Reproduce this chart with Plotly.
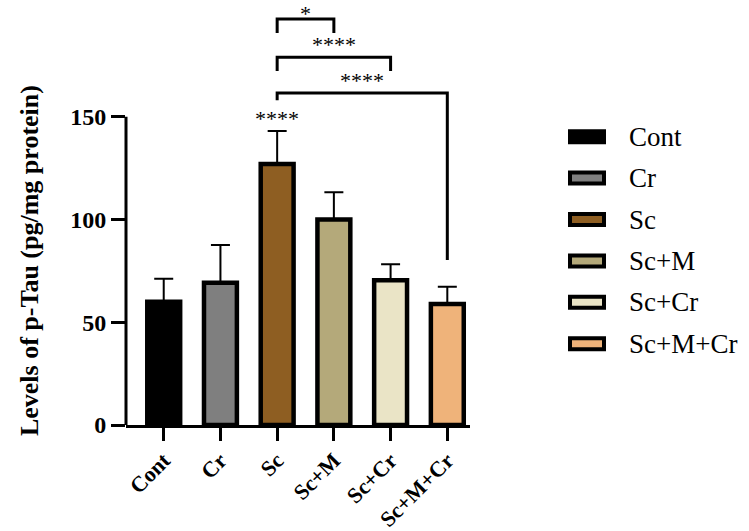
import plotly.graph_objects as go

categories = ["Cont", "Cr", "Sc", "Sc+M", "Sc+Cr", "Sc+M+Cr"]
means = [60.0, 69.2, 127.0, 100.0, 70.4, 58.9]
errors = [11.2, 18.4, 16.0, 13.2, 7.8, 8.4]
colors = ["#000000", "#7F7F7F", "#8E5E22", "#B4A97A", "#EAE4C6", "#EFB37A"]
y_ticks = [0, 50, 100, 150]
sc_stars = "****"
# (group a, group b, label, bracket top, left drop bottom, right drop bottom)
comparisons = [
    ("Sc", "Sc+M", "*", 197.6, 190.8, 190.8),
    ("Sc", "Sc+Cr", "****", 179.0, 172.3, 172.3),
    ("Sc", "Sc+M+Cr", "****", 161.6, 158.0, 80.3),
]

W, H = 749, 531
L, R, T, B = 126, 279, 0, 106
Y_MAX = 206.8
FONT = "Liberation Serif"

def px_x(px):
    return (px - L) / (W - L - R)

def px_y(py):
    return (H - B - py) / (H - T - B)

fig = go.Figure()
fig.add_trace(go.Bar(
    x=categories, y=means,
    marker=dict(color=colors, line=dict(color="black", width=4.5)),
    width=0.58,
    error_y=dict(type="data", array=errors, arrayminus=[0] * len(errors),
                 symmetric=False, color="black", thickness=2, width=9.5),
    showlegend=False,
))

shapes = []
annotations = []

# custom y axis line from 0 to 150
shapes.append(dict(type="line", xref="paper", yref="y", x0=0, x1=0,
                   y0=0, y1=max(y_ticks), line=dict(color="black", width=3)))

# significance brackets
for k, (a, b, lab, top, lb, rb) in enumerate(comparisons):
    ia, ib = categories.index(a), categories.index(b)
    path = f"M {ia} {lb} L {ia} {top} L {ib} {top} L {ib} {rb}"
    shapes.append(dict(type="path", xref="x", yref="y", path=path,
                       line=dict(color="black", width=3)))
    if k == 0:
        ann = dict(y=Y_MAX, yanchor="top", yshift=1)
    else:
        ann = dict(y=top, yanchor="bottom", yshift=-2)
    annotations.append(dict(x=(ia + ib) / 2, xref="x", yref="y",
                            text=lab, showarrow=False,
                            font=dict(family=FONT, size=22, color="black"), **ann))

isc = categories.index("Sc")
annotations.append(dict(x=isc, y=means[isc] + errors[isc], xref="x", yref="y",
                        text=sc_stars, showarrow=False, yanchor="bottom", yshift=-2,
                        font=dict(family=FONT, size=22, color="black")))

# y axis title
annotations.append(dict(x=px_x(13), y=80, xref="paper", yref="y",
                        text="Levels of p-Tau (pg/mg protein)", textangle=-90,
                        showarrow=False,
                        font=dict(family=FONT, size=26, color="black", weight="bold")))

# custom legend
for i, (cat, col) in enumerate(zip(categories, colors)):
    cy = 136.7 + 41.4 * i
    shapes.append(dict(type="rect", xref="paper", yref="paper",
                       x0=px_x(570), x1=px_x(604), y0=px_y(cy - 5.5), y1=px_y(cy + 5.5),
                       fillcolor=col, line=dict(color="black", width=4)))
    annotations.append(dict(x=px_x(627), y=px_y(cy), xref="paper", yref="paper",
                            text=cat, showarrow=False, xanchor="left", yanchor="middle",
                            font=dict(family=FONT, size=27, color="black")))

fig.update_layout(
    width=W, height=H,
    margin=dict(l=L, r=R, t=T, b=B),
    plot_bgcolor="white", paper_bgcolor="white",
    shapes=shapes, annotations=annotations,
    xaxis=dict(range=[-0.665, 5.4], showline=True, linecolor="black", linewidth=3,
               ticks="outside", ticklen=13, tickwidth=3, tickcolor="black",
               tickangle=-45, showgrid=False, zeroline=False, automargin=False,
               ticklabelstandoff=-2,
               tickfont=dict(family=FONT, size=22, color="black", weight="bold")),
    yaxis=dict(range=[0, Y_MAX], showline=False, tickvals=y_ticks,
               ticks="outside", ticklen=14, tickwidth=3, tickcolor="black",
               showgrid=False, zeroline=False, automargin=False,
               tickfont=dict(family=FONT, size=24, color="black", weight="bold")),
)

fig.write_html("out.html")
